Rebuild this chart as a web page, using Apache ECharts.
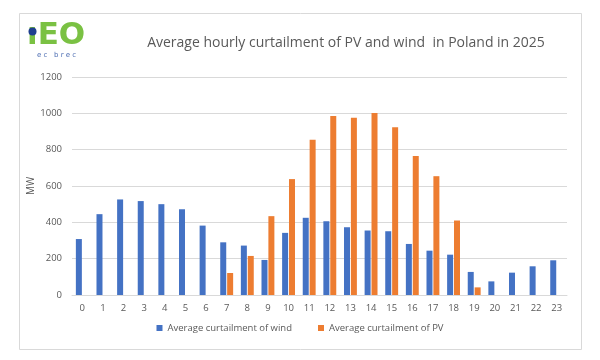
<!DOCTYPE html>
<html><head><meta charset="utf-8">
<script src="https://cdn.jsdelivr.net/npm/echarts@6/dist/echarts.min.js"></script>
<style>html,body{margin:0;padding:0;background:#fff}#c{width:600px;height:360px}</style>
</head><body><div id="c"></div>
<script>
const hours = ['0','1','2','3','4','5','6','7','8','9','10','11','12','13','14','15','16','17','18','19','20','21','22','23'];
const windValues = [308,445,526,517,500,472,382,290,272,193,342,425,406,373,355,351,281,244,222,127,75,123,158,191];
const pvValues = [null,null,null,null,null,null,null,121,215,434,638,855,985,976,1002,923,765,654,410,42,null,null,null,null];
const yTicks = [0,200,400,600,800,1000,1200];

const chart = echarts.init(document.getElementById('c'));
const font = 'Open Sans';
chart.setOption({
  backgroundColor:'#fff',
  animation:false,
  title:{text:'Average hourly curtailment of PV and wind  in Poland in 2025', left:341, top:31, textAlign:'center',
    textStyle:{fontFamily:font, fontSize:14, fontWeight:'normal', color:'#595959'}},
  graphic:[
    {type:'rect', shape:{x:19.5,y:13.5,width:562,height:336}, style:{fill:'none', stroke:'#d9d9d9', lineWidth:1}, z:-1},
    {type:'text', left:27, top:20, style:{text:'\u0131EO', font:'bold 31px "DejaVu Sans"', fill:'#7ac143'}},
    {type:'circle', shape:{cx:32.5,cy:31.5,r:4}, style:{fill:'#1f3f8f'}},
    {type:'text', left:37, top:52, style:{text:'e c   b r e c', font:'7px "DejaVu Sans"', fill:'#4f6fb3'}}
  ],
  legend:{bottom:22, left:'center', itemWidth:6, itemHeight:6, itemGap:26,
    textStyle:{fontFamily:font, fontSize:9.5, color:'#595959'},
    data:[{name:'Average curtailment of wind', icon:'rect'},{name:'Average curtailment of PV', icon:'rect'}]},
  grid:{left:72, right:33, top:77, bottom:65},
  xAxis:{type:'category', data:hours,
    axisLine:{lineStyle:{color:'#d9d9d9'}}, axisTick:{show:false},
    axisLabel:{fontFamily:font, fontSize:9.5, color:'#595959', margin:8}},
  yAxis:{type:'value', min:0, max:1200, interval:200, name:'MW', nameLocation:'middle', nameGap:36,
    nameMoveOverlap:false,
    nameTextStyle:{fontFamily:font, fontSize:10, color:'#595959'},
    axisLine:{show:false}, axisTick:{show:false},
    axisLabel:{fontFamily:font, fontSize:9.5, color:'#595959', margin:10,
      formatter:(v)=>yTicks.includes(v)?String(v):''},
    splitLine:{lineStyle:{color:'#d9d9d9'}}},
  series:[
    {name:'Average curtailment of wind', type:'bar', data:windValues, barWidth:6, barGap:'15%', itemStyle:{color:'#4472c4'}},
    {name:'Average curtailment of PV', type:'bar', data:pvValues, barWidth:6, itemStyle:{color:'#ed7d31'}}
  ]
});
</script></body></html>
